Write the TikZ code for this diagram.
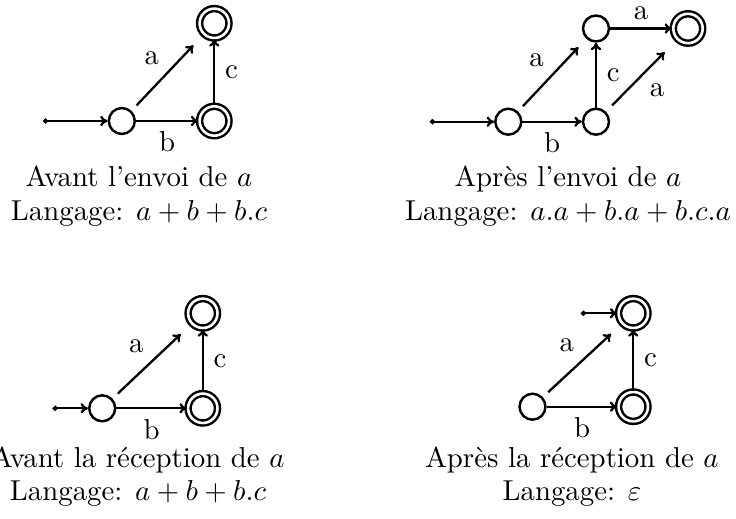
\documentclass[tikz,border=0pt]{standalone}
\usetikzlibrary{arrows.meta}
\begin{document}
\begin{tikzpicture}[x=0.347pt,y=-0.347pt,
  every node/.style={font=\fontsize{10}{12}\selectfont},
  st/.style={circle,draw,line width=0.85pt,minimum size=9pt,inner sep=0pt},
  acc/.style={circle,draw,line width=0.85pt,double,double distance=0.9pt,minimum size=10.2pt,inner sep=0pt},
  tip/.style={-{To[length=2.6pt,width=3.6pt]}},
  tr/.style={line width=0.8pt,tip},
  init/.style={line width=0.8pt,{Circle[length=1.7pt]}-{To[length=2.6pt,width=3.6pt]}},
  diag/.style={tr,shorten <=2.5pt,shorten >=5pt},
  lbl/.style={inner sep=2.5pt},
  toplbl/.style={inner sep=1pt,above=1.6pt},
  captext/.style={anchor=base}]
\useasboundingbox (0,0) rectangle (736,519);
% top left
\coordinate (i1) at (43,121);
\node[st] (p1) at (121.8,121) {};
\node[acc] (b1) at (214.3,121) {};
\node[acc] (t1) at (214.3,23.3) {};
\draw[init] (i1) -- (p1);
\draw[tr] (p1) -- node[below] {b} (b1);
\draw[tr] (b1) -- node[right] {c} (t1);
\draw[diag] (p1) -- node[lbl,above left] {a} (t1);
\node[captext] (c1a) at (139,187) {Avant l'envoi de $a$};
\node[captext] (c1b) at (139,220) {Langage: $a+b+b.c$};
% top right
\coordinate (i2) at (430,121.7);
\node[st] (p2) at (508.3,121.7) {};
\node[st] (b2) at (596,121.7) {};
\node[st] (t2) at (596,28.5) {};
\node[acc] (f2) at (688,28.5) {};
\draw[init] (i2) -- (p2);
\draw[tr] (p2) -- node[below] {b} (b2);
\draw[tr] (b2) -- node[right] {c} (t2);
\draw[diag,shorten >=4pt] (p2) -- node[lbl,above left] {a} (t2);
\draw[tr] (t2) -- node[toplbl] {a} (f2);
\draw[diag,shorten <=3pt,shorten >=6pt] (b2) -- node[lbl,below right] {a} (f2);
\node[captext] (c2a) at (568,187) {Après l'envoi de $a$};
\node[captext] (c2b) at (568,220) {Langage: $a.a+b.a+b.c.a$};
% bottom left
\coordinate (i3) at (52.7,408.3);
\node[st] (p3) at (102.2,408.3) {};
\node[acc] (b3) at (202.8,408.3) {};
\node[acc] (t3) at (202.8,313.3) {};
\draw[init] (i3) -- (p3);
\draw[tr] (p3) -- node[below] {b} (b3);
\draw[tr] (b3) -- node[right] {c} (t3);
\draw[diag] (p3) -- node[lbl,above left] {a} (t3);
\node[captext] (c3a) at (138,467) {Avant la réception de $a$};
\node[captext] (c3b) at (138,500) {Langage: $a+b+b.c$};
% bottom right
\coordinate (i4) at (581,313.3);
\node[st] (p4) at (532.5,406.7) {};
\node[acc] (b4) at (633.3,406.7) {};
\node[acc] (t4) at (633.3,313.3) {};
\draw[init] (i4) -- (t4);
\draw[tr] (p4) -- node[below] {b} (b4);
\draw[tr] (b4) -- node[right] {c} (t4);
\draw[diag] (p4) -- node[lbl,above left] {a} (t4);
\node[captext] (c4a) at (572,467) {Après la réception de $a$};
\node[captext] (c4b) at (572,500) {Langage: $\varepsilon$};
\end{tikzpicture}
\end{document}
